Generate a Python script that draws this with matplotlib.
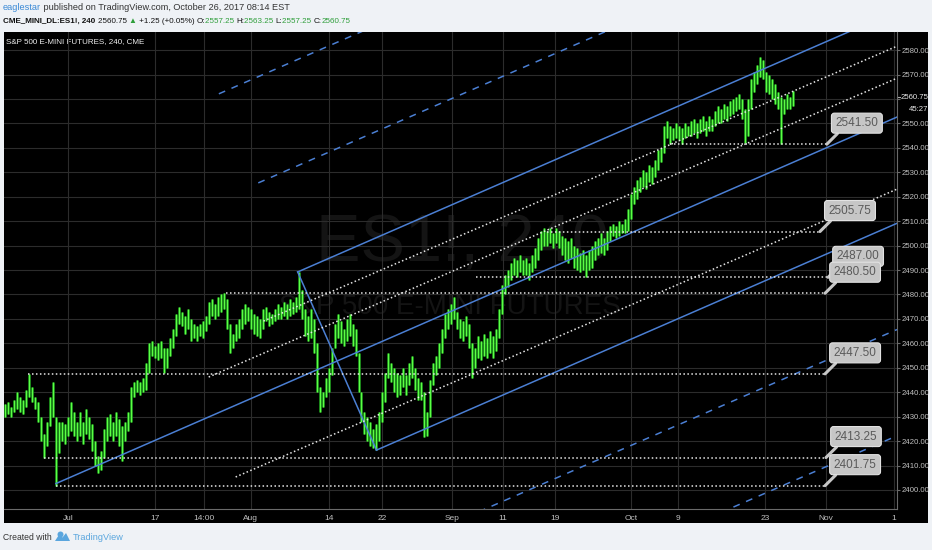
import numpy as np
import matplotlib
matplotlib.use('Agg')
import matplotlib.pyplot as plt
from matplotlib.patches import Rectangle, Polygon, Circle
import matplotlib.transforms as mtransforms

plt.rcParams['font.family'] = ['Liberation Sans', 'DejaVu Sans']

# ---------------- data (4h bars, index = bar number) ----------------
bar_highs = [2435, 2436, 2434, 2437, 2440, 2438, 2437, 2441, 2447.5, 2442,
             2438, 2436, 2430, 2423, 2428, 2438, 2444, 2430, 2428, 2428,
             2427, 2430, 2436, 2432, 2428, 2432, 2428, 2433, 2430, 2427,
             2420, 2414, 2416, 2425, 2430, 2431, 2428, 2432, 2429, 2426,
             2428, 2432, 2442, 2444, 2445, 2444, 2446, 2452, 2460, 2461,
             2459, 2460, 2461, 2458, 2458, 2462, 2466, 2472, 2475, 2473,
             2471, 2474, 2470, 2468, 2467, 2468, 2469, 2471, 2477, 2478,
             2476, 2479, 2480, 2480.5, 2478, 2468, 2464, 2468, 2470, 2474,
             2476, 2475, 2474, 2472, 2471, 2470, 2474, 2475, 2473, 2472,
             2474, 2476, 2475, 2477, 2476, 2478, 2477, 2479, 2489, 2482,
             2474, 2471, 2474, 2470, 2460, 2442, 2440, 2446, 2450, 2458,
             2468, 2472, 2469, 2466, 2470, 2472, 2468, 2466, 2456, 2440,
             2432, 2430, 2428, 2425, 2427, 2432, 2440, 2448, 2456, 2452,
             2450, 2448, 2447, 2450, 2447, 2452, 2455, 2450, 2446, 2444,
             2440, 2432, 2445, 2452, 2455, 2460, 2466, 2472, 2474, 2476,
             2479, 2473, 2470, 2469, 2471, 2468, 2460, 2458, 2463, 2461,
             2464, 2462, 2465, 2463, 2466, 2474, 2484, 2488, 2490, 2493,
             2495, 2494, 2496, 2494, 2495, 2493, 2496, 2499, 2503, 2506,
             2507, 2506, 2507, 2505, 2507, 2506, 2504, 2503, 2502, 2503,
             2500, 2499, 2497, 2498, 2496, 2498, 2500, 2502, 2503, 2505,
             2503, 2506, 2508, 2509, 2508, 2510, 2509, 2511, 2515, 2521,
             2524, 2527, 2528, 2531, 2530, 2533, 2532, 2535, 2539, 2540,
             2549, 2551, 2549, 2548, 2550, 2549, 2548, 2550, 2549, 2551,
             2552, 2550, 2552, 2553, 2551, 2553, 2552, 2555, 2557, 2556,
             2558, 2557, 2559, 2560, 2561, 2562, 2560, 2556, 2560, 2568,
             2571, 2574, 2577, 2576, 2571, 2570, 2568, 2566, 2563, 2561,
             2560, 2562, 2561, 2563.25]
bar_lows = [2430, 2431, 2430, 2432, 2433, 2432, 2431, 2434, 2438, 2436,
            2433, 2428, 2420, 2413.25, 2418, 2426, 2430, 2401.75, 2415, 2420,
            2419, 2422, 2424, 2422, 2420, 2422, 2419, 2423, 2421, 2416,
            2410, 2407, 2408, 2413, 2420, 2422, 2420, 2422, 2418, 2412,
            2420, 2424, 2428, 2438, 2440, 2439, 2440, 2441, 2448, 2455,
            2454, 2453, 2454, 2448, 2450, 2455, 2458, 2463, 2468, 2467,
            2464, 2466, 2461, 2462, 2461, 2463, 2462, 2465, 2468, 2471,
            2470, 2471, 2473, 2474, 2466, 2456, 2458, 2461, 2462, 2466,
            2468, 2469, 2466, 2464, 2463, 2462, 2466, 2469, 2467, 2468,
            2469, 2470, 2470, 2471, 2470, 2471, 2472, 2473, 2474, 2470,
            2463, 2461, 2462, 2456, 2440, 2432, 2434, 2438, 2440, 2447,
            2458, 2462, 2460, 2459, 2461, 2463, 2459, 2455, 2440, 2428,
            2423, 2420, 2418, 2417, 2416.3, 2420, 2428, 2436, 2446, 2444,
            2440, 2438, 2439, 2442, 2439, 2443, 2446, 2441, 2437, 2437,
            2421.5, 2422, 2430, 2443, 2447, 2450, 2456, 2462, 2466, 2468,
            2470, 2466, 2462, 2461, 2463, 2458, 2446, 2450, 2454, 2453,
            2455, 2454, 2456, 2454, 2457, 2462, 2472, 2480, 2483, 2486,
            2488, 2487, 2489, 2488, 2488, 2486, 2489, 2491, 2494, 2498,
            2500, 2500, 2501, 2499, 2501, 2499, 2496, 2494, 2493, 2495,
            2491, 2490, 2489, 2490, 2487, 2490, 2491, 2494, 2496, 2497,
            2496, 2498, 2502, 2504, 2503, 2504, 2505, 2505, 2506, 2511,
            2517, 2519, 2522, 2524, 2523, 2526, 2525, 2528, 2531, 2534,
            2538, 2544, 2541.5, 2543, 2544, 2543, 2541.5, 2544, 2545, 2545,
            2546, 2544, 2546, 2547, 2545, 2547, 2547, 2549, 2550, 2550,
            2552, 2551, 2553, 2554, 2555, 2556, 2552, 2542, 2545, 2556,
            2563, 2566, 2569, 2568, 2563, 2562, 2560, 2558, 2556, 2541.5,
            2554, 2556, 2556, 2557.25]

level_prices = [2541.50, 2505.75, 2487.00, 2480.50, 2447.50, 2413.25, 2401.75]
level_start = [222.0, 181.0, 157.3, 73.7, 7.7, 13.0, 17.0]
level_end = [274.3, 272.0, 274.7, 273.7, 273.7, 274.0, 273.7]

price_ticks = [2400, 2410, 2420, 2430, 2440, 2450, 2460, 2470, 2480, 2490,
               2500, 2510, 2520, 2530, 2540, 2550, 2560, 2570, 2580]
last_price = 2560.75
countdown = '45:27'

date_pos = [21, 50, 66.3, 82, 108.3, 126, 149.3, 166.3, 183.7, 209, 224.7,
            253.7, 274, 296.7]
date_labels = ['Jul', '17', '14:00', 'Aug', '14', '22', 'Sep', '11', '19',
               'Oct', '9', '23', 'Nov', '1']

# Andrews pitchfork anchors (bar, price)
pf_x = [17.0, 97.7, 124.0]
pf_y = [2402.6, 2489.2, 2416.3]
pf_ext = [-1.0, -0.5, 1.5, 2.0]   # extension levels along P1-P2

# dotted parallel trend lines
trend_x0 = [86.3, 68.0, 77.0]
trend_y0 = [2469.1, 2446.2, 2405.3]
trend_x1 = [297.7, 297.7, 297.7]
trend_y1 = [2581.6, 2568.5, 2523.1]

XMIN, XMAX = -0.3, 297.7
YMIN, YMAX = 2392.2, 2587.4

# ---------------- figure ----------------
W, H = 932, 550
fig = plt.figure(figsize=(W / 100, H / 100), dpi=100, facecolor='#eff2f6')

bg = fig.add_axes([0, 0, 1, 1])
bg.set_xlim(0, W)
bg.set_ylim(H, 0)
bg.axis('off')
bg.set_zorder(0)
bg.add_patch(Rectangle((4, 32), 924, 491, fc='black', ec='none'))

ax = fig.add_axes([4 / W, (H - 509) / H, (897 - 4) / W, (509 - 32) / H])
ax.set_zorder(1)
ax.patch.set_alpha(0)
ax.set_xlim(XMIN, XMAX)
ax.set_ylim(YMIN, YMAX)

# watermark
bg.text(462, 245, 'ES1!, 240', fontsize=48, color='#141414', ha='center',
        va='center', zorder=1)
bg.text(450, 307, 'S&P 500 E-MINI FUTURES', fontsize=20, color='#141414',
        ha='center', va='center', zorder=1)

# grid
for p in price_ticks:
    ax.axhline(p, color='#2c2c2c', lw=0.8, zorder=0)
for d in date_pos:
    ax.axvline(d, color='#2c2c2c', lw=0.8, zorder=0)

# spines
for s in ['left', 'top']:
    ax.spines[s].set_visible(False)
ax.spines['right'].set_color('#6a6a6a')
ax.spines['bottom'].set_color('#6a6a6a')
ax.spines['right'].set_linewidth(0.8)
ax.spines['bottom'].set_linewidth(0.8)

# ticks
ax.yaxis.tick_right()
ylabels = [f'{p:.2f}' if p != 2560 else '' for p in price_ticks]
ax.set_yticks(price_ticks, ylabels)
ax.tick_params(axis='y', colors='#6a6a6a', labelcolor='#c0c0c0',
               labelsize=5.6, length=2, width=0.8, pad=1.2)
ax.set_xticks(date_pos, date_labels)
ax.tick_params(axis='x', length=0, labelcolor='#c0c0c0', labelsize=6, pad=4)

ytr = mtransforms.blended_transform_factory(ax.transAxes, ax.transData)
ax.text(1.0 + 3.5 / 893, last_price, f'{last_price:.2f}', transform=ytr,
        fontsize=5.6, color='#e8e8e8', va='center', ha='left', clip_on=False)
ax.plot([1.0, 1.0 + 3 / 893], [last_price, last_price], transform=ytr,
        color='#aaaaaa', lw=0.8, clip_on=False)
ax.annotate(countdown, xy=(1.0, last_price), xycoords=ytr,
            xytext=(12, -12), textcoords='offset pixels', fontsize=5.6,
            color='#e8e8e8', va='center', ha='left', annotation_clip=False)

# price bars
xb = np.arange(len(bar_highs))
ax.vlines(xb, bar_lows, bar_highs, color='#1a8f1a', lw=1.9, zorder=3)
ax.vlines(xb, bar_lows, bar_highs, color='#5cff45', lw=0.9, zorder=4)

# pitchfork
blue = '#4b7fd3'
mx, my = (pf_x[1] + pf_x[2]) / 2, (pf_y[1] + pf_y[2]) / 2
slope = (my - pf_y[0]) / (mx - pf_x[0])
ax.plot([pf_x[0], XMAX], [pf_y[0], pf_y[0] + slope * (XMAX - pf_x[0])],
        color=blue, lw=1.1, zorder=5)
for i in (1, 2):
    ax.plot([pf_x[i], XMAX], [pf_y[i], pf_y[i] + slope * (XMAX - pf_x[i])],
            color=blue, lw=1.1, zorder=5)
ax.plot(pf_x[1:], pf_y[1:], color=blue, lw=1.1, zorder=5)
for t in pf_ext:
    sx = pf_x[1] + t * (pf_x[2] - pf_x[1])
    sy = pf_y[1] + t * (pf_y[2] - pf_y[1])
    ax.plot([sx, XMAX], [sy, sy + slope * (XMAX - sx)], color=blue, lw=1.1,
            ls=(0, (4.5, 4.5)), zorder=5)

# dotted trend lines
for x0, y0, x1, y1 in zip(trend_x0, trend_y0, trend_x1, trend_y1):
    ax.plot([x0, x1], [y0, y1], color='#e6e6e6', lw=1.1, ls=(0, (1, 1.6)),
            zorder=5)

# horizontal levels + callouts
ax.hlines(level_prices, level_start, level_end, colors='#e6e6e6', lw=1.1,
          linestyles=[(0, (1, 1.6))], zorder=5)
for p, xe in zip(level_prices, level_end):
    ax.annotate(f'{p:.2f}', xy=(xe, p), xytext=(30, 21),
                textcoords='offset pixels', ha='center', va='center',
                fontsize=8.5, color='#5a5a5a', zorder=7,
                bbox=dict(boxstyle='round,pad=0.34,rounding_size=0.25',
                          fc='#c6c6c6', ec='#e2e2e2', lw=0.8),
                arrowprops=dict(arrowstyle='-', color='#c6c6c6', lw=2.2,
                                shrinkA=0, shrinkB=0, relpos=(0.15, 0.0)))

# top-left legend
bg.text(6, 42, 'S&P 500 E-MINI FUTURES, 240, CME', fontsize=5.8,
        color='#f0f0f0', ha='left', va='center', zorder=3)

# header
t1 = bg.text(3, 7.5, 'eaglestar', fontsize=6.6, color='#3b8ad6', ha='left',
             va='center')
bg.annotate(' published on TradingView.com, October 26, 2017 08:14 EST',
            xy=(1, 0), xycoords=t1, va='bottom', ha='left', fontsize=6.6,
            color='#333333')
hfs = 5.8
pieces = [('CME_MINI_DL:ES1!, 240 ', '#111111', 'bold'),
          ('2560.75 ', '#111111', 'normal'),
          ('\u25B2', '#2e9e3a', 'normal'),
          (' +1.25 (+0.05%) ', '#111111', 'normal'),
          ('O:', '#111111', 'normal'), ('2557.25 ', '#2e9e3a', 'normal'),
          ('H:', '#111111', 'normal'), ('2563.25 ', '#2e9e3a', 'normal'),
          ('L:', '#111111', 'normal'), ('2557.25 ', '#2e9e3a', 'normal'),
          ('C:', '#111111', 'normal'), ('2560.75', '#2e9e3a', 'normal')]
prev = bg.text(3, 21.5, pieces[0][0], fontsize=hfs, color=pieces[0][1],
               fontweight=pieces[0][2], ha='left', va='center')
for s, c, w in pieces[1:]:
    prev = bg.annotate(s, xy=(1, 0), xycoords=prev, va='bottom', ha='left',
                       fontsize=hfs, color=c, fontweight=w)

# footer
bg.text(3, 537, 'Created with', fontsize=6.2, color='#333333', ha='left',
        va='center')
bg.add_patch(Polygon([(55, 541), (59.5, 534), (62.5, 537.5), (66, 533),
                      (70, 541)], closed=True, fc='#5aa6de', ec='none'))
bg.add_patch(Circle((60.5, 534.5), 3.0, fc='#5aa6de', ec='none'))
bg.text(73, 537, 'TradingView', fontsize=6.6, color='#5aa6de', ha='left',
        va='center')

fig.savefig('out.png', dpi=100, facecolor=fig.get_facecolor())
